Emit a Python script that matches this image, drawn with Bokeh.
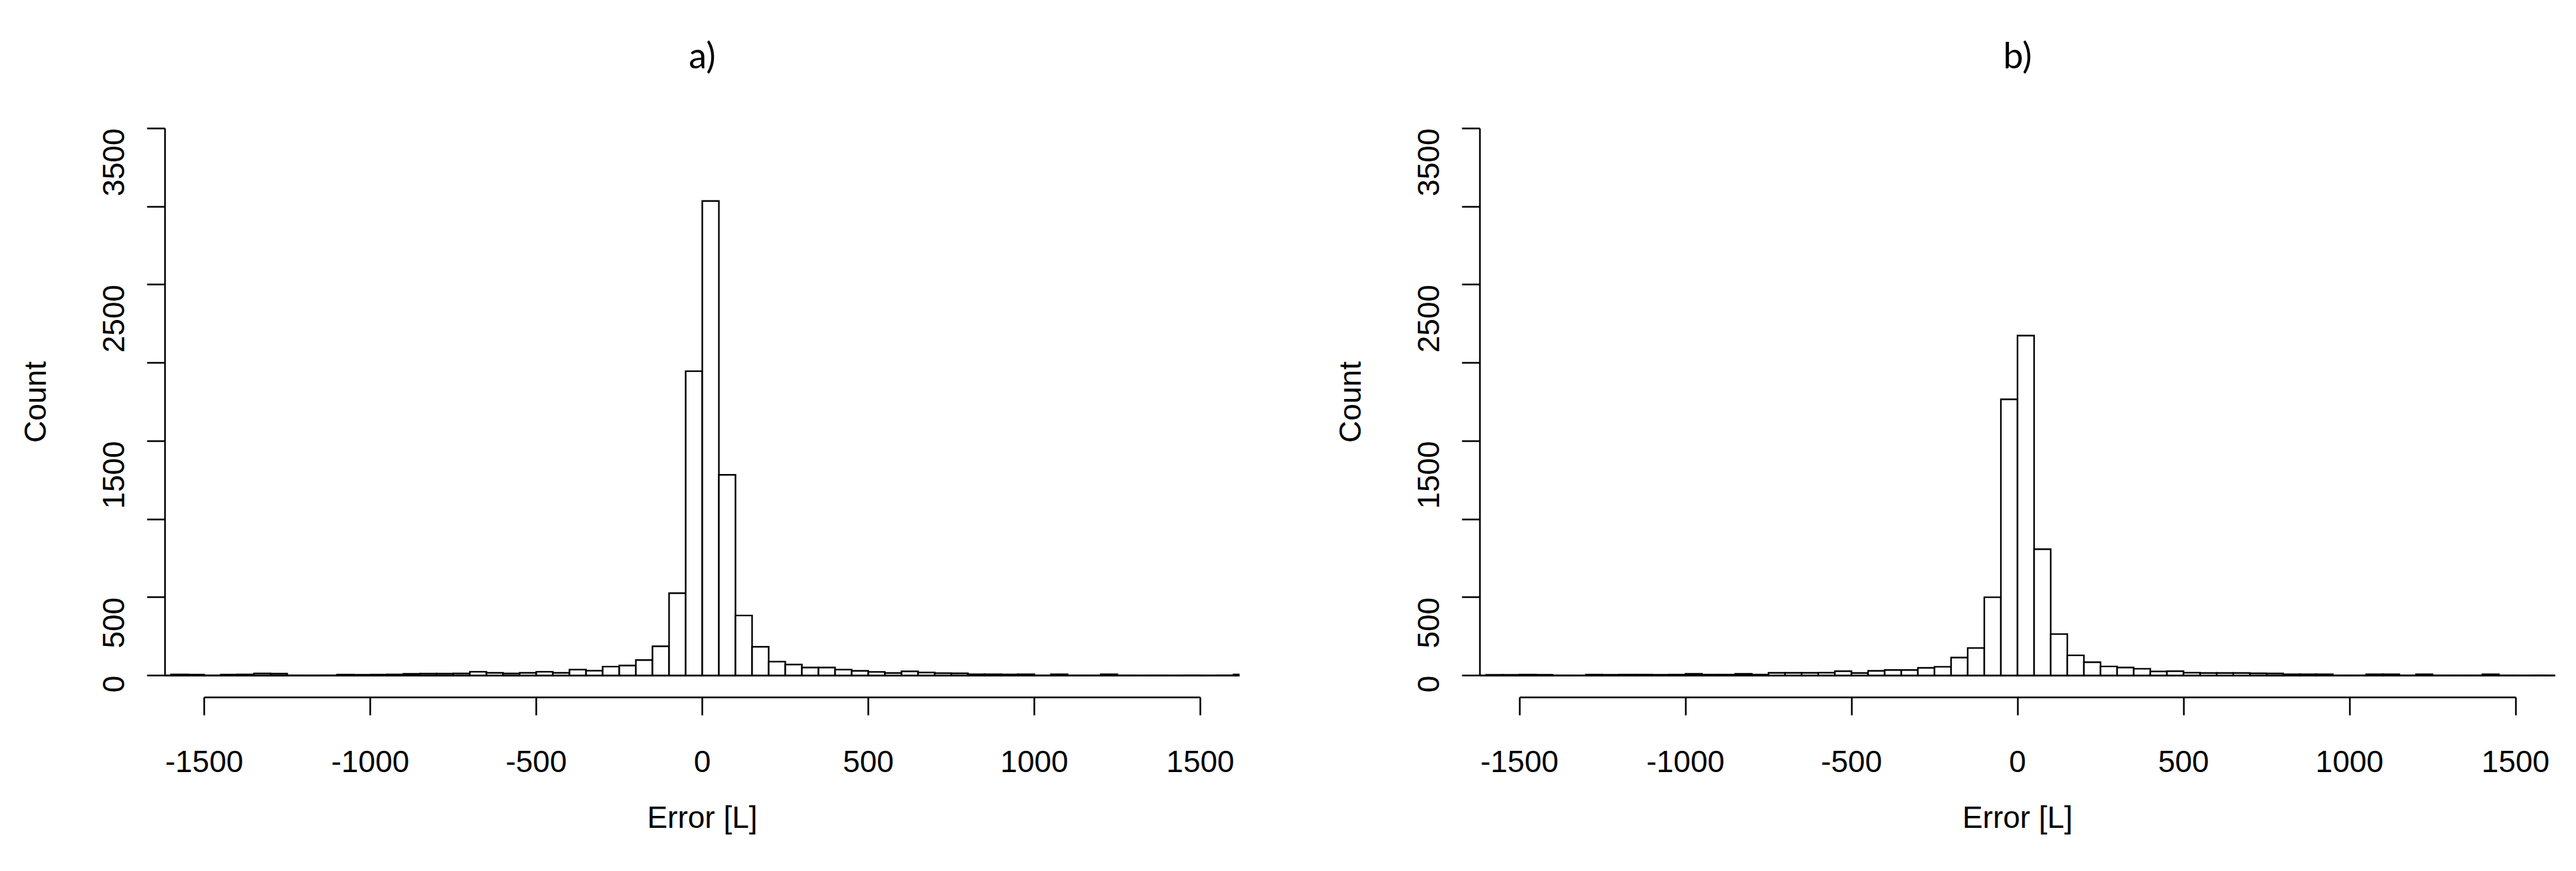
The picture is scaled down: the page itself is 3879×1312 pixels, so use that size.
import math
from bokeh.plotting import figure
from bokeh.layouts import row
from bokeh.models import FixedTicker, Range1d, ColumnDataSource, Title
from bokeh.embed import file_html
from bokeh.resources import INLINE

# ---- data ----
bin_width = 50
bin_start = -1650
counts_a = [0, 7, 6, 1, 6, 7, 13, 12, 1, 0, 1, 6, 5, 6, 7, 11, 12, 12, 13,
            24, 17, 13, 17, 24, 17, 38, 31, 57, 64, 99, 187, 527, 1947,
            3036, 1284, 384, 184, 89, 70, 51, 51, 38, 30, 23, 16, 27, 19,
            15, 14, 8, 8, 7, 8, 1, 8, 1, 1, 8, 1, 0, 1, 0, 1, 0, 1, 7]
counts_b = [0, 5, 5, 6, 5, 1, 0, 6, 5, 6, 6, 5, 6, 11, 6, 6, 11, 6, 17,
            17, 17, 18, 28, 16, 30, 35, 35, 49, 56, 115, 176, 501, 1767,
            2175, 808, 265, 129, 85, 58, 51, 43, 26, 28, 18, 16, 16, 16,
            14, 13, 8, 8, 8, 1, 1, 8, 8, 1, 8, 1, 1, 1, 8, 1, 0, 1, 0]
titles = ["a)", "b)"]
x_ticks = [-1500, -1000, -500, 0, 500, 1000, 1500]
x_tick_labels = {-1500: "-1500", -1000: "-1000", -500: "-500", 0: "0",
                 500: "500", 1000: "1000", 1500: "1500"}
y_ticks = [0, 500, 1000, 1500, 2000, 2500, 3000, 3500]
y_tick_labels = {0: "0", 500: "500", 1000: "", 1500: "1500", 2000: "", 2500: "2500", 3000: "", 3500: "3500"}
x_label = "Error [L]"
y_label = "Count"

FONT = "Liberation Sans"


def make_panel(counts, title, width, mbl, mbr, xr):
    left = [bin_start + i * bin_width for i in range(len(counts))]
    right = [l + bin_width for l in left]
    src = ColumnDataSource(dict(left=left, right=right, top=counts, bottom=[0] * len(counts)))
    p = figure(width=width, height=1300, output_backend="svg", toolbar_location=None,
               x_range=Range1d(-xr, xr), y_range=Range1d(-140, 3640),
               min_border_left=mbl, min_border_right=mbr, min_border_top=160, min_border_bottom=250)
    p.title = Title(text=title, align="center", offset=5, text_font="Lato", text_font_size="54px",
                    text_font_style="normal", text_color="black", standoff=91)
    p.outline_line_color = None
    p.xgrid.visible = False
    p.ygrid.visible = False
    p.background_fill_color = "white"
    p.border_fill_color = "white"

    p.segment(x0=[left[0]], y0=[0], x1=[right[-1]], y1=[0], line_color="black", line_width=2.4)
    p.quad(left="left", right="right", top="top", bottom="bottom", source=src,
           fill_color="white", line_color="black", line_width=2.4, line_join="miter")

    for ax in (p.xaxis[0], p.yaxis[0]):
        ax.axis_line_width = 2.5
        ax.axis_line_color = "black"
        ax.major_tick_line_width = 2.5
        ax.major_tick_line_color = "black"
        ax.major_tick_out = 27
        ax.major_tick_in = 0
        ax.minor_tick_out = 0
        ax.minor_tick_in = 0
        ax.major_label_text_font = FONT
        ax.major_label_text_font_size = "46px"
        ax.major_label_text_color = "black"
        ax.axis_label_text_font = FONT
        ax.axis_label_text_font_size = "46px"
        ax.axis_label_text_font_style = "normal"
        ax.axis_label_text_color = "black"

    xa = p.xaxis[0]
    xa.ticker = FixedTicker(ticks=x_ticks)
    xa.bounds = (x_ticks[0], x_ticks[-1])
    xa.major_label_overrides = x_tick_labels
    xa.axis_label = x_label
    xa.major_label_standoff = 53
    xa.axis_label_standoff = 39

    ya = p.yaxis[0]
    ya.ticker = FixedTicker(ticks=y_ticks)
    ya.bounds = (y_ticks[0], y_ticks[-1])
    ya.major_label_overrides = y_tick_labels
    ya.major_label_orientation = math.pi / 2
    ya.axis_label = y_label
    ya.major_label_standoff = 50
    ya.axis_label_standoff = 58
    return p


pa = make_panel(counts_a, titles[0], 1988, 248, 122, 1618)
pb = make_panel(counts_b, titles[1], 1875, 240, 16, 1619)
layout = row(pa, pb)
open("out.html", "w").write(file_html(layout, INLINE))
